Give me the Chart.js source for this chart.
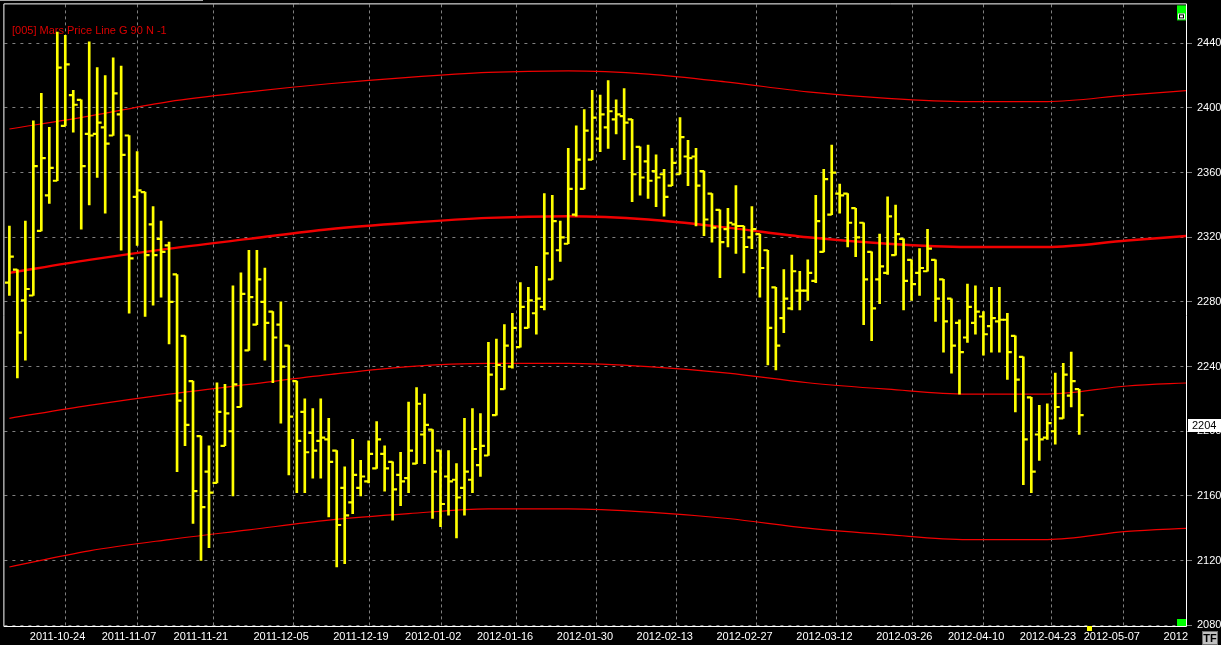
<!DOCTYPE html>
<html>
<head>
<meta charset="utf-8">
<script src="https://cdn.jsdelivr.net/npm/chart.js@4.4.1/dist/chart.umd.min.js"></script>
<style>
  html, body { margin: 0; padding: 0; background: #000; }
  #wrap { width: 1221px; height: 645px; position: relative; }
</style>
</head>
<body>
<div id="wrap"><canvas id="priceChart"></canvas></div>
<script>
// daily OHLC bars
const opens = [2292,2300,2281,2284,2324,2346,2355,2389,2408,2405,
  2384,2384,2388,2383,2396,2383,2345,2348,2328,2319,
  2315,2297,2259,2231,2197,2175,2168,2191,2200,2215,
  2250,2266,2280,2274,2266,2253,2231,2212,2199,2194,
  2195,2188,2165,2156,2165,2169,2177,2186,2181,2173,
  2171,2180,2198,2201,2188,2172,2170,2165,2170,2179,
  2185,2210,2226,2240,2252,2264,2273,2277,2294,2312,
  2316,2334,2350,2368,2381,2388,2393,2395,2393,2376,
  2367,2361,2359,2352,2359,2370,2370,2361,2347,2337,
  2325,2328,2327,2320,2322,2312,2289,2270,2276,2287,
  2287,2293,2311,2334,2347,2347,2338,2329,2311,2294,
  2298,2309,2319,2306,2298,2299,2306,2294,2282,2267,
  2258,2267,2271,2265,2268,2269,2259,2246,2221,2198,
  2196,2200,2208,2222,2226];
const highs = [2327,2300,2330,2392,2409,2388,2447,2445,2411,2405,
  2441,2425,2420,2431,2426,2383,2373,2348,2339,2330,
  2317,2297,2259,2231,2197,2191,2230,2229,2290,2298,
  2312,2312,2301,2274,2280,2253,2231,2220,2214,2220,
  2208,2188,2178,2195,2182,2194,2206,2191,2181,2187,
  2218,2227,2223,2201,2188,2188,2180,2208,2214,2211,
  2255,2257,2266,2273,2292,2289,2302,2347,2346,2330,
  2375,2389,2399,2411,2408,2417,2405,2412,2393,2376,
  2377,2371,2362,2375,2394,2380,2375,2361,2347,2337,
  2338,2352,2327,2339,2322,2312,2289,2300,2309,2299,
  2306,2346,2362,2377,2353,2347,2338,2329,2311,2322,
  2345,2340,2319,2306,2313,2325,2306,2294,2282,2269,
  2291,2290,2274,2289,2289,2273,2259,2246,2221,2216,
  2217,2236,2242,2249,2226];
const lows = [2284,2233,2244,2284,2324,2341,2355,2389,2385,2325,
  2340,2357,2335,2383,2312,2273,2315,2271,2278,2283,
  2254,2175,2191,2143,2120,2128,2168,2191,2160,2215,
  2250,2266,2244,2230,2205,2173,2162,2162,2171,2171,
  2147,2116,2118,2149,2160,2168,2177,2163,2145,2154,
  2162,2180,2180,2146,2141,2148,2134,2148,2162,2172,
  2185,2210,2226,2239,2252,2264,2260,2275,2294,2305,
  2316,2333,2350,2368,2373,2375,2384,2368,2342,2346,
  2344,2339,2333,2352,2359,2352,2327,2321,2317,2295,
  2314,2310,2298,2313,2283,2241,2238,2261,2275,2275,
  2281,2292,2311,2334,2335,2314,2308,2266,2256,2279,
  2297,2309,2275,2281,2284,2299,2268,2249,2236,2223,
  2255,2260,2247,2249,2249,2232,2212,2167,2162,2182,
  2195,2192,2208,2215,2198];
const closes = [2308,2261,2288,2364,2369,2363,2425,2427,2402,2364,
  2383,2391,2378,2409,2371,2307,2349,2309,2309,2311,
  2280,2219,2204,2163,2153,2162,2212,2211,2229,2285,
  2283,2294,2267,2258,2240,2209,2194,2187,2188,2196,
  2181,2142,2148,2173,2172,2186,2195,2177,2164,2169,
  2188,2217,2204,2175,2155,2169,2159,2175,2189,2191,
  2235,2241,2253,2264,2277,2281,2282,2310,2330,2320,
  2350,2368,2386,2394,2396,2398,2396,2391,2359,2357,
  2355,2357,2345,2366,2382,2369,2352,2331,2326,2317,
  2329,2327,2314,2325,2301,2264,2253,2282,2299,2287,
  2298,2330,2356,2360,2346,2329,2320,2294,2276,2302,
  2333,2322,2293,2291,2301,2313,2282,2268,2253,2249,
  2277,2274,2260,2270,2269,2249,2232,2195,2175,2195,
  2205,2215,2235,2231,2210];

// date labels and the bar each one marks
const labelBars = [3, 12, 21, 31, 41, 50, 59, 69, 79, 89, 99, 109, 118, 127, 135, 145];
const dateLabels = ['2011-10-24', '2011-11-07', '2011-11-21', '2011-12-05', '2011-12-19',
  '2012-01-02', '2012-01-16', '2012-01-30', '2012-02-13', '2012-02-27', '2012-03-12',
  '2012-03-26', '2012-04-10', '2012-04-23', '2012-05-07', '2012'];
const yTicks = [2080, 2120, 2160, 2200, 2240, 2280, 2320, 2360, 2400, 2440];

// mars price lines (G 90), sampled every 10 bars
const lineBars = [0, 10, 20, 30, 40, 50, 60, 70, 80, 90, 100, 110, 120, 130, 140, 148];
const marsTop = [2387, 2395, 2404, 2410, 2415, 2419, 2422, 2423, 2421, 2416, 2410, 2406, 2404, 2404, 2408, 2411];
const marsMid = [2298, 2306, 2313, 2319, 2325, 2329, 2332, 2333, 2331, 2326, 2320, 2316, 2314, 2314, 2318, 2321];
const marsLow = [2208, 2216, 2223, 2229, 2235, 2240, 2242, 2242, 2240, 2236, 2230, 2226, 2223, 2223, 2228, 2230];
const marsBottom = [2116, 2126, 2133, 2139, 2145, 2149, 2152, 2152, 2150, 2146, 2140, 2136, 2133, 2133, 2138, 2140];

const lastPrice = 2204;
const title = '[005] Mars Price Line G 90 N -1';

const YELLOW = '#ffff00';
const RED = '#f00000';
const GRID = '#7f7f7f';
const FONT = 'Liberation Sans, Arial, sans-serif';

const barIdx = opens.map((_, i) => i);
const hlData = barIdx.map(i => ({ x: i, y: [lows[i], highs[i]] }));
const openData = barIdx.map(i => ({ x: i - 0.28, y: opens[i] }));
const closeData = barIdx.map(i => ({ x: i + 0.28, y: closes[i] }));
const toLine = arr => lineBars.map((x, k) => ({ x: x, y: arr[k] }));

function tickSet(data) {
    return {
        type: 'line', data: data, showLine: false,
        pointStyle: 'line', pointRadius: 2.2, pointHoverRadius: 2.2,
        pointBorderWidth: 2.2, pointBorderColor: YELLOW
    };
}

function marsLine(arr, width) {
    return {
        type: 'line', data: toLine(arr), borderColor: RED, borderWidth: width,
        pointRadius: 0, tension: 0.4, cubicInterpolationMode: 'monotone'
    };
}

const chrome = {
    id: 'chrome',
    beforeDraw(chart) {
        const c = chart.ctx;
        c.save();
        c.fillStyle = '#000';
        c.fillRect(0, 0, chart.width, chart.height);
        c.fillStyle = '#a8a8a8';
        c.fillRect(0, 0, 203, 1);
        c.restore();
    },
    beforeDatasetsDraw(chart) {
        const c = chart.ctx;
        c.save();
        c.font = '11px ' + FONT;
        c.fillStyle = '#dc0000';
        c.textBaseline = 'alphabetic';
        c.fillText(title, 12, 34);
        c.restore();
    },
    afterDraw(chart) {
        const c = chart.ctx;
        const a = chart.chartArea;
        const ys = chart.scales.y;
        const xs = chart.scales.x;
        c.save();
        // frame
        c.strokeStyle = '#ffffff';
        c.lineWidth = 1;
        c.beginPath();
        c.moveTo(a.left - 0.5, a.bottom + 0.5);
        c.lineTo(a.left - 0.5, a.top - 0.5);
        c.lineTo(a.right + 0.5, a.top - 0.5);
        c.lineTo(a.right + 0.5, a.bottom + 0.5);
        c.lineTo(a.left - 0.5, a.bottom + 0.5);
        c.stroke();

        // green corner markers
        c.fillStyle = '#00ff00';
        c.fillRect(a.right - 9, a.top + 1, 9, 15);
        c.fillStyle = '#000';
        c.fillRect(a.right - 8, a.top + 9, 7, 6);
        c.strokeStyle = '#fff';
        c.strokeRect(a.right - 7.5, a.top + 9.5, 6, 5);
        c.fillStyle = '#fff';
        c.fillRect(a.right - 6, a.top + 11, 3, 2);
        c.fillStyle = '#00ff00';
        c.fillRect(a.right - 9, a.bottom - 7, 9, 7);

        // current bar marker
        const px = xs.getPixelForValue(opens.length);
        c.fillStyle = YELLOW;
        c.fillRect(Math.round(px), a.bottom, 5, 5);

        // last price box
        const py = ys.getPixelForValue(lastPrice);
        c.fillStyle = '#fff';
        c.fillRect(a.right + 2, Math.round(py) - 6, 40, 13);
        c.fillStyle = '#000';
        c.font = '11px ' + FONT;
        c.textBaseline = 'middle';
        c.fillText(String(lastPrice), a.right + 6, Math.round(py) + 0.5);

        // TF button
        c.fillStyle = '#c0c0c0';
        c.fillRect(1202, 631, 16, 14);
        c.strokeStyle = '#707070';
        c.strokeRect(1202.5, 631.5, 15, 13);
        c.fillStyle = '#000';
        c.font = 'bold 11px ' + FONT;
        c.textAlign = 'center';
        c.fillText('TF', 1210, 639);
        c.restore();
    }
};

const ctx = document.getElementById('priceChart');

new Chart(ctx, {
    type: 'bar',
    data: {
        datasets: [
            { type: 'bar', data: hlData, backgroundColor: YELLOW, barThickness: 2, borderWidth: 0, grouped: false },
            tickSet(openData),
            tickSet(closeData),
            marsLine(marsTop, 1.2),
            marsLine(marsMid, 2.4),
            marsLine(marsLow, 1.2),
            marsLine(marsBottom, 1.2)
        ]
    },
    options: {
        responsive: true,
        maintainAspectRatio: false,
        animation: false,
        events: [],
        layout: { padding: { left: 2, top: 3, right: 0, bottom: 0 } },
        scales: {
            x: {
                type: 'linear',
                min: -0.625,
                max: 147.375,
                offset: false,
                afterBuildTicks: s => { s.ticks = labelBars.map(b => ({ value: b - 0.4375 })); },
                afterFit: s => { s.height = 19; s.paddingLeft = 0; s.paddingRight = 0; },
                grid: { color: GRID, lineWidth: 1, drawTicks: false },
                border: { display: false, dash: [3, 3] },
                ticks: {
                    color: '#ffffff',
                    font: { family: FONT, size: 11 },
                    align: 'start',
                    maxRotation: 0,
                    autoSkip: false,
                    padding: 4,
                    callback: (v, i) => dateLabels[i]
                }
            },
            y: {
                position: 'right',
                min: 2079.5,
                max: 2464.1,
                afterBuildTicks: s => { s.ticks = yTicks.map(v => ({ value: v })); },
                afterFit: s => { s.width = 35; s.paddingTop = 0; s.paddingBottom = 0; },
                grid: { color: GRID, lineWidth: 1, drawTicks: true, tickLength: 6, tickColor: GRID },
                border: { display: false, dash: [3, 5] },
                ticks: {
                    color: '#ffffff',
                    font: { family: FONT, size: 11 },
                    padding: 5,
                    callback: v => String(v)
                }
            }
        },
        plugins: {
            legend: { display: false },
            tooltip: { enabled: false }
        }
    },
    plugins: [chrome]
});
</script>
</body>
</html>
